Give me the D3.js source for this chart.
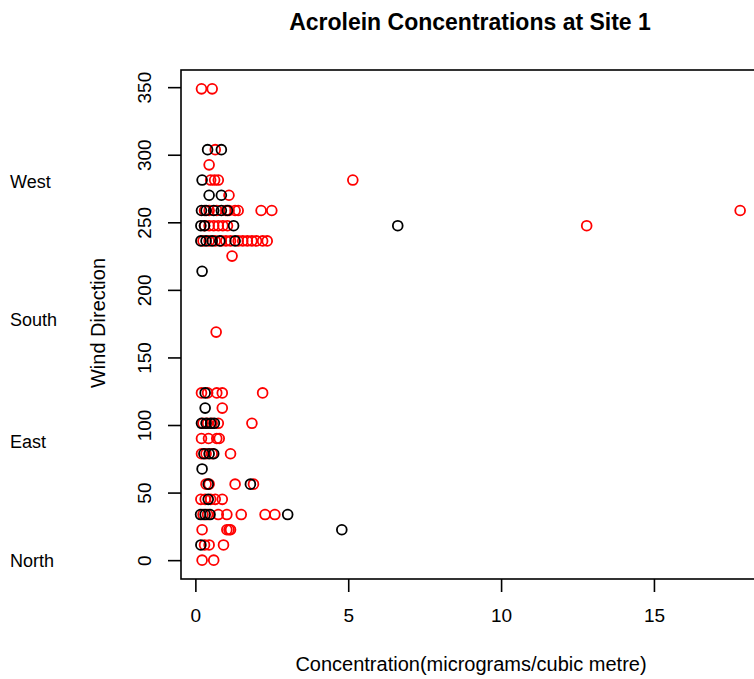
<!DOCTYPE html>
<html>
<head>
<meta charset="utf-8">
<script src="https://cdn.jsdelivr.net/npm/d3@7"></script>
<style>
  body { margin: 0; background: #fff; }
  svg { display: block; font-family: "Liberation Sans", Arial, sans-serif; }
</style>
</head>
<body>
<svg width="754" height="679"></svg>
<script>
// wind direction rows (degrees) and concentrations read per row
var directions = [0, 11.25, 22.5, 33.75, 45, 56.25, 67.5, 78.75, 90, 101.25, 112.5, 123.75,
	168.75, 213.75, 225, 236.25, 247.5, 258.75, 270, 281.25, 292.5, 303.75, 348.75];

var blackValues = [
	[], [0.18], [4.79], [0.17, 0.32, 0.48, 3.02], [0.42], [0.42, 1.8], [0.22], [0.28, 0.45, 0.6],
	[], [0.2, 0.35, 0.5, 0.62], [0.32], [0.32],
	[], [0.22], [], [0.18, 0.35, 0.55, 0.8, 1.3], [0.18, 0.3, 1.25, 6.62], [0.2, 0.35, 0.6, 0.85, 1.05],
	[0.45, 0.85], [0.22], [], [0.4, 0.85], []
];

var redValues = [
	[0.22, 0.6], [0.3, 0.45, 0.92], [0.22, 1.03, 1.1, 1.15], [0.25, 0.4, 0.75, 1.03, 1.5, 2.28, 2.6],
	[0.18, 0.32, 0.5, 0.65, 0.88], [0.35, 0.45, 1.3, 1.9], [], [0.2, 0.35, 0.55, 1.15],
	[0.2, 0.43, 0.7, 0.78], [0.25, 0.4, 0.55, 0.75, 1.85], [0.88], [0.2, 0.4, 0.7, 0.88, 2.2],
	[0.68], [], [1.2],
	[0.25, 0.45, 0.65, 0.85, 1.0, 1.15, 1.4, 1.55, 1.7, 1.85, 2.0, 2.2, 2.35],
	[0.3, 0.45, 0.6, 0.75, 0.9, 1.05, 12.8],
	[0.3, 0.45, 0.7, 1.0, 1.1, 1.3, 1.4, 2.15, 2.5, 17.82],
	[1.1], [0.5, 0.63, 0.75, 5.15], [0.45], [0.65], [0.2, 0.55]
];

var xTicks = [0, 5, 10, 15];
var yTicks = [0, 50, 100, 150, 200, 250, 300, 350];
var compass = [
	{label: 'West', y: 280.5},
	{label: 'South', y: 178},
	{label: 'East', y: 87.5},
	{label: 'North', y: 0}
];

var svg = d3.select('svg');

var x = d3.scaleLinear().domain([-0.47, 18.6]).range([181, 764]);
var y = d3.scaleLinear().domain([-13.95, 362.7]).range([579, 70]);

function toPoints(rows, colour){
	var pts = [];
	rows.forEach(function(row, i){
		row.forEach(function(v){ pts.push({x: v, y: directions[i], c: colour}); });
	});
	return pts;
}

var points = toPoints(redValues, '#ff0000').concat(toPoints(blackValues, '#000000'));

// points
svg.append('g').selectAll('circle')
	.data(points)
	.enter().append('circle')
	.attr('cx', d => x(d.x))
	.attr('cy', d => y(d.y))
	.attr('r', 4.9)
	.style('fill', 'none')
	.style('stroke', d => d.c)
	.style('stroke-width', 1.8);

// plot box
svg.append('rect')
	.attr('x', 181).attr('y', 70)
	.attr('width', 764 - 181).attr('height', 579 - 70)
	.style('fill', 'none').style('stroke', '#000').style('stroke-width', 1.6);

// x axis
var xAxis = svg.append('g')
	.attr('transform', 'translate(0,579)')
	.call(d3.axisBottom(x).tickValues(xTicks).tickSize(13).tickPadding(17));
xAxis.select('.domain').remove();
xAxis.selectAll('line').style('stroke-width', 1.6);
xAxis.selectAll('text').style('font-size', '19px').style('font-family', '"Liberation Sans", Arial, sans-serif').attr('fill', '#000');

// y axis, labels rotated like base R
var yAxis = svg.append('g')
	.attr('transform', 'translate(181,0)')
	.call(d3.axisLeft(y).tickValues(yTicks).tickSize(13).tickFormat(d3.format('d')));
yAxis.select('.domain').remove();
yAxis.selectAll('line').style('stroke-width', 1.6);
yAxis.selectAll('text')
	.attr('x', null)
	.attr('transform', 'translate(-36.5,0) rotate(-90)')
	.attr('text-anchor', 'middle')
	.attr('dy', '0.36em')
	.style('font-size', '19px')
	.style('font-family', '"Liberation Sans", Arial, sans-serif')
	.attr('fill', '#000');

// compass labels
svg.append('g').selectAll('text')
	.data(compass)
	.enter().append('text')
	.attr('x', 10)
	.attr('y', d => y(d.y))
	.attr('dy', '0.36em')
	.style('font-size', '18px')
	.text(d => d.label);

// titles
svg.append('text')
	.attr('x', 470).attr('y', 30)
	.attr('text-anchor', 'middle')
	.style('font-size', '23px').style('font-weight', 'bold')
	.text('Acrolein Concentrations at Site 1');

svg.append('text')
	.attr('x', 471).attr('y', 671)
	.attr('text-anchor', 'middle')
	.style('font-size', '20px')
	.text('Concentration(micrograms/cubic metre)');

svg.append('text')
	.attr('transform', 'translate(105,323) rotate(-90)')
	.attr('text-anchor', 'middle')
	.style('font-size', '20px')
	.text('Wind Direction');
</script>
</body>
</html>
